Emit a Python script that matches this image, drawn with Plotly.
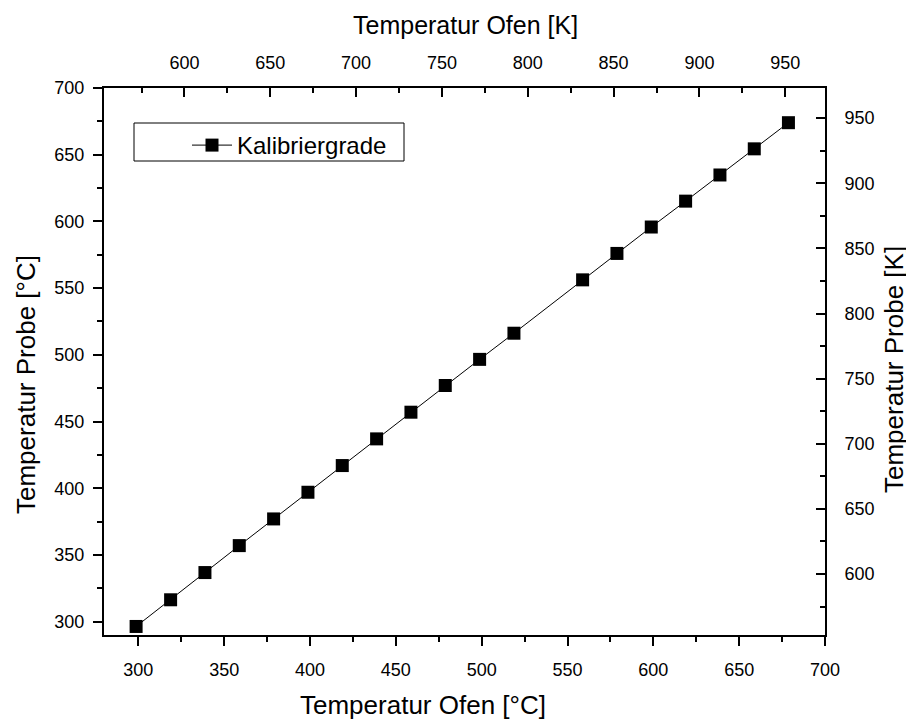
import plotly.graph_objects as go

# Data
ofen_c = [298.7, 318.8, 338.8, 358.8, 378.8, 398.8, 418.8, 438.8, 458.8, 478.8, 498.8, 518.8,
          558.8, 578.8, 598.8, 618.8, 638.8, 658.8, 678.7]
probe_c = [296.4, 316.4, 336.8, 357.0, 377.0, 397.0, 417.0, 437.0, 457.0, 477.0, 496.6, 516.2,
           556.2, 576.0, 595.8, 615.2, 634.8, 654.4, 674.0]
series_name = "Kalibriergrade"
x_title = "Temperatur Ofen [°C]"
x2_title = "Temperatur Ofen [K]"
y_title = "Temperatur Probe [°C]"
y2_title = "Temperatur Probe [K]"

x_range_c = [280, 700]
y_range_c = [290, 700]
K_OFFSET = 273.15
k_range = [x_range_c[0] + K_OFFSET, x_range_c[1] + K_OFFSET]

FONT = "Liberation Sans, Arial, sans-serif"
PAGE_OFF = 8  # default body margin of the html page
W, H = 906, 714
ML, MR, MT, MB = 96, 89, 80, 87
PW, PH = W - ML - MR, H - MT - MB


def px(X):  # page x pixel -> paper
    return (X - PAGE_OFF - ML) / PW


def py(Y):  # page y pixel -> paper
    return (H - MB - (Y - PAGE_OFF)) / PH


fig = go.Figure()
fig.add_trace(go.Scatter(
    x=ofen_c, y=probe_c, mode="lines+markers", name=series_name,
    line=dict(color="black", width=1),
    marker=dict(symbol="square", size=13, color="black"),
))
# carrier trace so that the Kelvin axes are drawn (invisible)
fig.add_trace(go.Scatter(
    x=[v + K_OFFSET for v in ofen_c], y=[v + K_OFFSET for v in ofen_c],
    xaxis="x2", yaxis="y2", mode="markers", marker=dict(opacity=0),
    showlegend=False, hoverinfo="skip",
))

tickfont = dict(family=FONT, size=18, color="black")
titlefont = dict(family=FONT, size=26, color="black")


def axis(ticks_dir, standoff, **kw):
    d = dict(showline=True, linecolor="black", linewidth=2, ticks=ticks_dir,
             ticklen=9, tickwidth=1.5, tickcolor="black", showgrid=False, zeroline=False,
             tickfont=tickfont, dtick=50, tick0=0, ticklabelstandoff=standoff,
             minor=dict(ticks=ticks_dir, ticklen=5, tickwidth=1.5, tickcolor="black",
                        dtick=25, showgrid=False))
    d.update(kw)
    return d


fig.update_layout(
    width=W, height=H,
    margin=dict(l=ML, r=MR, t=MT, b=MB),
    paper_bgcolor="white", plot_bgcolor="white",
    font=dict(family=FONT, color="black"),
    showlegend=True,
    legend=dict(x=px(187), y=py(123), xanchor="left", yanchor="top",
                bgcolor="rgba(0,0,0,0)", borderwidth=0, itemwidth=40,
                font=dict(family=FONT, size=24, color="black")),
    xaxis=axis("outside", 8, range=x_range_c),
    yaxis=axis("outside", 5, range=y_range_c),
    xaxis2=axis("inside", 10, range=k_range, overlaying="x", side="top", anchor="y"),
    yaxis2=axis("inside", 14, range=k_range, overlaying="y", side="right", anchor="x"),
    shapes=[dict(type="rect", xref="paper", yref="paper",
                 x0=px(134), x1=px(404), y0=py(161), y1=py(123),
                 line=dict(color="black", width=1), fillcolor="rgba(0,0,0,0)")],
    annotations=[
        dict(text=x_title, xref="paper", yref="paper", x=px(423), y=py(705),
             showarrow=False, font=titlefont, xanchor="center", yanchor="middle"),
        dict(text=x2_title, xref="paper", yref="paper", x=px(465), y=py(25),
             showarrow=False, font=dict(family=FONT, size=25, color="black"),
             xanchor="center", yanchor="middle"),
        dict(text=y_title, xref="paper", yref="paper", x=px(26), y=py(385),
             showarrow=False, font=titlefont, textangle=-90, xanchor="center", yanchor="middle"),
        dict(text=y2_title, xref="paper", yref="paper", x=px(894), y=py(370),
             showarrow=False, font=titlefont, textangle=-90, xanchor="center", yanchor="middle"),
    ],
)

fig.write_html("out.html")
